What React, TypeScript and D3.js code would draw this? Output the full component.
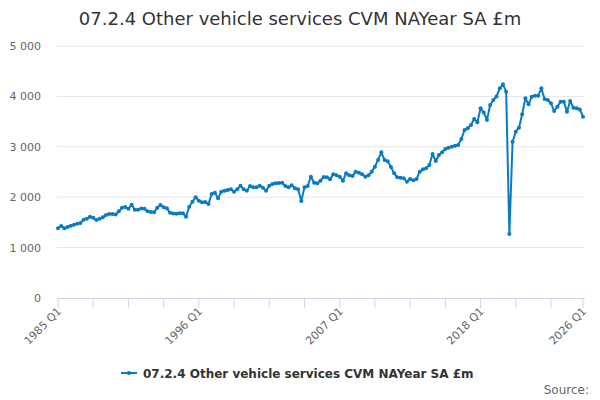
import React from "react";
import * as d3 from "d3";

const title = "07.2.4 Other vehicle services CVM NAYear SA £m";
const seriesName = "07.2.4 Other vehicle services CVM NAYear SA £m";

const firstYear = 1985;
const lastYear = 2026;

// quarterly values, 1985 Q1 .. 2026 Q1
const values = [
  1383, 1430, 1385, 1410, 1435, 1455, 1475, 1490, 1555, 1570,
  1610, 1590, 1550, 1570, 1600, 1645, 1665, 1665, 1655, 1720,
  1790, 1805, 1770, 1850, 1750, 1750, 1775, 1770, 1720, 1706,
  1700, 1790, 1845, 1800, 1780, 1693, 1675, 1673, 1680, 1680,
  1613, 1812, 1910, 1998, 1930, 1898, 1905, 1865, 2063, 2090,
  1978, 2110, 2130, 2143, 2156, 2110, 2157, 2228, 2157, 2130,
  2222, 2196, 2196, 2228, 2189, 2130, 2228, 2262, 2275, 2280,
  2288, 2222, 2196, 2236, 2180, 2157, 1925, 2196, 2222, 2407,
  2288, 2275, 2328, 2400, 2394, 2354, 2454, 2434, 2407, 2328,
  2474, 2434, 2420, 2506, 2487, 2454, 2407, 2434, 2506, 2606,
  2740, 2891, 2738, 2715, 2600, 2474, 2394, 2388, 2374, 2308,
  2361, 2335, 2361, 2506, 2553, 2573, 2639, 2857, 2718, 2837,
  2891, 2956, 2983, 3002, 3022, 3036, 3155, 3333, 3367, 3433,
  3552, 3486, 3764, 3680, 3532, 3829, 3929, 4000, 4160, 4240,
  4094, 1270, 3100, 3300, 3380, 3645, 3962, 3843, 3995, 4014,
  4014, 4160, 3948, 3929, 3863, 3710, 3796, 3896, 3896, 3697,
  3909, 3776, 3764, 3740, 3598,
];

const categories: string[] = [];
for (let y = firstYear; y <= lastYear; y++) {
  for (let q = 1; q <= 4; q++) {
    if (y === lastYear && q > 1) break;
    categories.push(`${y} Q${q}`);
  }
}

const yTicks = [0, 1000, 2000, 3000, 4000, 5000];
const xTickIdx = [0, 11, 22, 33, 44, 55, 66, 77, 88, 99, 110, 121, 132, 143, 154, 164];
const xLabelIdx = [0, 44, 88, 132, 164];

const blue = "#0a7bc2";
const font = "'DejaVu Sans', sans-serif";

const App: React.FC = () => {
  const width = 600;
  const height = 400;

  const x = d3.scaleLinear().domain([0, categories.length - 1]).range([58, 583]);
  const y = d3.scaleLinear().domain([0, 5000]).range([298, 46]);

  const line = d3.line<number>()
    .x((_, i) => x(i))
    .y(d => y(d));

  const fmt = (v: number) => d3.format(",")(v).replace(/,/g, " ");

  return (
    <svg width={width} height={height} style={{ position: "absolute", left: 0, top: 0 }} fontFamily={font}>
      <rect width={width} height={height} fill="#fff" />
      <text x={300} y={25} textAnchor="middle" fontSize={18} fill="#333">{title}</text>

      {yTicks.map(t => (
        <g key={t}>
          {t > 0 && <line x1={57} x2={585} y1={y(t)} y2={y(t)} stroke="#e6e6e6" />}
          <text x={41} y={y(t) + 4} textAnchor="end" fontSize={11} fill="#666">{fmt(t)}</text>
        </g>
      ))}

      <line x1={57} x2={585} y1={y(0) + 0.5} y2={y(0) + 0.5} stroke="#ccd6eb" />
      {xTickIdx.map(i => (
        <line key={i} x1={x(i)} x2={x(i)} y1={y(0)} y2={y(0) + 10} stroke="#ccd6eb" />
      ))}
      {xLabelIdx.map(i => (
        <text key={i} transform={`translate(${x(i) + 4},${y(0) + 14}) rotate(-45)`}
          textAnchor="end" fontSize={11} fill="#666">{categories[i]}</text>
      ))}

      <path d={line(values) ?? ""} fill="none" stroke={blue} strokeWidth={2} strokeLinejoin="round" />
      {values.map((v, i) => (
        <circle key={i} cx={x(i)} cy={y(v)} r={2} fill={blue} />
      ))}

      <g transform="translate(121,373)">
        <line x1={0} x2={16} y1={0} y2={0} stroke={blue} strokeWidth={2} />
        <circle cx={8} cy={0} r={2} fill={blue} />
        <text x={22} y={5} fontSize={12} fontWeight="bold" fill="#333">{seriesName}</text>
      </g>

      <text x={589} y={394} textAnchor="end" fontSize={12} fill="#666">Source:</text>
    </svg>
  );
};

export default App;
